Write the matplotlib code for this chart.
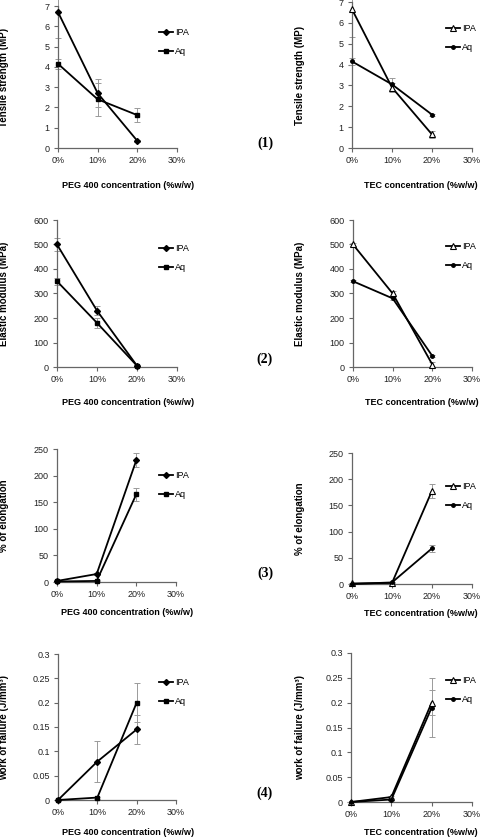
import matplotlib
matplotlib.use("Agg")
import matplotlib.pyplot as plt
from matplotlib.ticker import FuncFormatter

plt.rcParams['font.family'] = ['Liberation Sans', 'DejaVu Sans']

conc = [0, 10, 20]
x_ticks = [0, 10, 20, 30]
x_tick_labels = ['0%', '10%', '20%', '30%']

# (1) tensile strength
ts_peg_ipa = [6.7, 2.7, 0.35]
ts_peg_ipa_err = [1.3, 0.7, 0.05]
ts_peg_aq = [4.15, 2.4, 1.62]
ts_peg_aq_err = [0.25, 0.8, 0.33]
ts_tec_ipa = [6.65, 2.9, 0.65]
ts_tec_ipa_err = [1.35, 0.2, 0.15]
ts_tec_aq = [4.15, 3.05, 1.6]
ts_tec_aq_err = [0.15, 0.3, 0.05]

# (2) elastic modulus
em_peg_ipa = [500, 230, 5]
em_peg_ipa_err = [25, 18, 3]
em_peg_aq = [350, 180, 5]
em_peg_aq_err = [15, 20, 3]
em_tec_ipa = [500, 300, 10]
em_tec_ipa_err = [5, 10, 10]
em_tec_aq = [350, 280, 45]
em_tec_aq_err = [5, 5, 5]

# (3) elongation
el_peg_ipa = [2, 15, 229]
el_peg_ipa_err = [1, 2, 13]
el_peg_aq = [1, 2, 165]
el_peg_aq_err = [1, 1, 12]
el_tec_ipa = [1, 2, 178]
el_tec_ipa_err = [1, 1, 13]
el_tec_aq = [0, 3, 68]
el_tec_aq_err = [1, 1, 7]

# (4) work of failure
wf_peg_ipa = [0, 0.079, 0.145]
wf_peg_ipa_err = [0, 0.042, 0.03]
wf_peg_aq = [0, 0.005, 0.2]
wf_peg_aq_err = [0, 0.002, 0.04]
wf_tec_ipa = [0, 0.01, 0.2]
wf_tec_ipa_err = [0, 0.002, 0.025]
wf_tec_aq = [0, 0.005, 0.19]
wf_tec_aq_err = [0, 0.002, 0.06]

panels = [
    # rect (px), ipa, ipa_err, aq, aq_err, ymax, ystep, ylabel, xlabel, tec, legend anchor (px), xlabel offset px
    ([58, 6, 177, 148], ts_peg_ipa, ts_peg_ipa_err, ts_peg_aq, ts_peg_aq_err, 7, 1,
     'Tensile strength (MP)', 'PEG 400 concentration (%w/w)', False, (159, 33), 33),
    ([352, 2, 472, 148], ts_tec_ipa, ts_tec_ipa_err, ts_tec_aq, ts_tec_aq_err, 7, 1,
     'Tensile strength (MP)', 'TEC concentration (%w/w)', True, (446, 29), 33),
    ([57, 220, 177, 367], em_peg_ipa, em_peg_ipa_err, em_peg_aq, em_peg_aq_err, 600, 100,
     'Elastic modulus (MPa)', 'PEG 400 concentration (%w/w)', False, (159, 249), 31),
    ([353, 220, 472, 367], em_tec_ipa, em_tec_ipa_err, em_tec_aq, em_tec_aq_err, 600, 100,
     'Elastic modulus (MPa)', 'TEC concentration (%w/w)', True, (446, 247), 31),
    ([57, 449, 176, 582], el_peg_ipa, el_peg_ipa_err, el_peg_aq, el_peg_aq_err, 250, 50,
     '% of elongation', 'PEG 400 concentration (%w/w)', False, (159, 476), 26),
    ([352, 453, 472, 584], el_tec_ipa, el_tec_ipa_err, el_tec_aq, el_tec_aq_err, 250, 50,
     '% of elongation', 'TEC concentration (%w/w)', True, (446, 487), 25),
    ([58, 654, 176, 800], wf_peg_ipa, wf_peg_ipa_err, wf_peg_aq, wf_peg_aq_err, 0.3, 0.05,
     'work of failure (J/mm³)', 'PEG 400 concentration (%w/w)', False, (159, 683), 28),
    ([351, 653, 472, 802], wf_tec_ipa, wf_tec_ipa_err, wf_tec_aq, wf_tec_aq_err, 0.3, 0.05,
     'work of failure (J/mm³)', 'TEC concentration (%w/w)', True, (446, 681), 26),
]

W, H = 481, 838
fig = plt.figure(figsize=(W / 100, H / 100), dpi=100)
axis_col = '#666666'
err_col = '#9a9a9a'

for rect, ipa, ipa_err, aq, aq_err, ymax, ystep, ylabel, xlabel, tec, leg, xoff in panels:
    x0, y0, x1, y1 = rect
    ax = fig.add_axes([x0 / W, 1 - y1 / H, (x1 - x0) / W, (y1 - y0) / H])
    if tec:
        ipa_kw = dict(marker='^', ms=4, mfc='white', mec='black', mew=0.8)
        aq_kw = dict(marker='o', ms=2.5, mfc='black', mec='black')
    else:
        ipa_kw = dict(marker='D', ms=3, mfc='black', mec='black')
        aq_kw = dict(marker='s', ms=3, mfc='black', mec='black')
    for vals, errs in ((ipa, ipa_err), (aq, aq_err)):
        ax.errorbar(conc, vals, yerr=errs, fmt='none', ecolor=err_col,
                    elinewidth=0.7, capsize=2.5, capthick=0.7, clip_on=False, zorder=2)
    ax.plot(conc, ipa, color='black', lw=1.3, label='IPA', clip_on=False, zorder=3, **ipa_kw)
    ax.plot(conc, aq, color='black', lw=1.3, label='Aq', clip_on=False, zorder=3, **aq_kw)

    ax.set_xlim(0, 30)
    ax.set_ylim(0, ymax)
    ax.set_xticks(x_ticks)
    ax.set_xticklabels(x_tick_labels)
    n = int(round(ymax / ystep))
    ax.set_yticks([ystep * i for i in range(n + 1)])
    ax.yaxis.set_major_formatter(FuncFormatter(lambda v, p: f"{round(v, 4):g}"))
    for s in ('top', 'right'):
        ax.spines[s].set_visible(False)
    for s in ('left', 'bottom'):
        ax.spines[s].set_color(axis_col)
        ax.spines[s].set_linewidth(0.9)
    ax.tick_params(axis='both', colors=axis_col, labelcolor='#222222', labelsize=6.5,
                   length=3, width=0.8, pad=3)
    # y label: right edge of the rotated text in pixels
    ylab_right = 305 if tec else 9
    ax.set_ylabel(ylabel, fontsize=7, fontweight='bold')
    ax.yaxis.set_label_coords((ylab_right - x0) / (x1 - x0), 0.5)
    # x label: top of the text, xoff pixels under the axis
    ax.set_xlabel(xlabel, fontsize=6.5, fontweight='bold')
    ax.xaxis.set_label_coords(0.575 if tec else 0.59, -xoff / (y1 - y0))
    ax.legend(loc='center left', bbox_to_anchor=(leg[0] / W, 1 - (leg[1] + 9) / H),
              bbox_transform=fig.transFigure, frameon=False, fontsize=6.5,
              handlelength=1.5, handletextpad=0.3, labelspacing=1.1, borderpad=0,
              borderaxespad=0)

for label, y in (('(1)', 143), ('(2)', 359), ('(3)', 573), ('(4)', 793)):
    fig.text(265 / W, 1 - y / H, label, ha='center', va='center', fontsize=10,
             fontweight='bold', family=['Liberation Serif', 'DejaVu Serif'])

fig.savefig('out.png', dpi=100)
